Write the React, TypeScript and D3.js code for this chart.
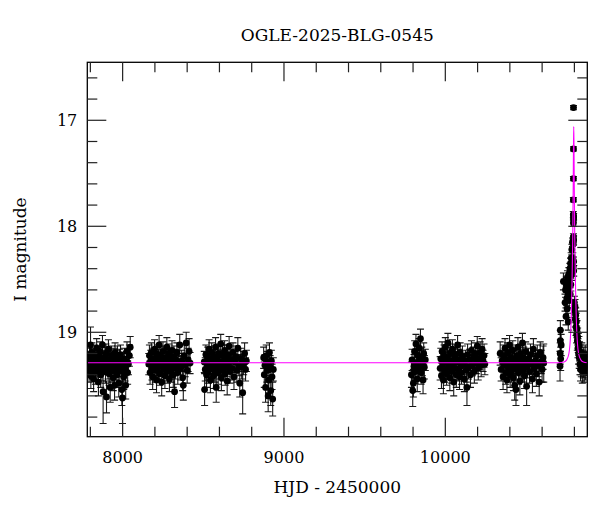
import { useEffect, useRef } from 'react'
import * as d3 from 'd3'

// each observation: [HJD - 2450000, I mag, error]
type Obs = [number, number, number]

const season1: Obs[] = [
  [7788,19.28,0.10],[7792,19.36,0.11],[7795,19.22,0.09],[7799,19.31,0.10],[7801,19.12,0.17],[7803,19.41,0.12],
  [7806,19.25,0.10],[7810,19.19,0.09],[7813,19.33,0.11],[7817,19.27,0.10],[7820,19.44,0.12],[7824,19.30,0.10],
  [7828,19.21,0.09],[7831,19.38,0.11],[7835,19.26,0.10],[7839,19.15,0.09],[7842,19.34,0.11],[7846,19.29,0.10],
  [7850,19.47,0.13],[7853,19.23,0.10],[7857,19.32,0.10],[7861,19.18,0.09],[7864,19.40,0.12],[7868,19.27,0.10],
  [7872,19.35,0.11],[7875,19.12,0.09],[7879,19.56,0.30],[7886,19.30,0.10],[7890,19.24,0.10],[7894,19.37,0.11],
  [7897,19.20,0.09],[7900,19.61,0.15],[7905,19.28,0.10],[7909,19.33,0.11],[7912,19.16,0.09],[7916,19.39,0.11],
  [7920,19.26,0.10],[7923,19.52,0.14],[7927,19.31,0.10],[7931,19.22,0.09],[7934,19.36,0.11],[7938,19.29,0.10],
  [7942,19.43,0.12],[7946,19.25,0.10],[7950,19.50,0.14],[7953,19.19,0.09],[7957,19.34,0.11],[7961,19.27,0.10],
  [7965,19.40,0.12],[7968,19.23,0.10],[7972,19.32,0.10],[7976,19.48,0.13],[7980,19.26,0.10],[7983,19.36,0.11],
  [7987,19.21,0.09],[7991,19.29,0.10],[7995,19.54,0.15],[7999,19.62,0.24],[8003,19.31,0.11],[8007,19.42,0.12],
  [8011,19.25,0.10],[8015,19.35,0.11],[8019,19.50,0.13],[8023,19.28,0.10],[8027,19.18,0.09],[8031,19.38,0.11],
  [8036,19.30,0.10],[8042,19.22,0.10],[8047,19.14,0.10],
]

const season2: Obs[] = [
  [8162,19.30,0.10],[8166,19.22,0.10],[8170,19.38,0.11],[8174,19.27,0.10],[8178,19.19,0.09],[8182,19.34,0.11],
  [8186,19.42,0.12],[8190,19.25,0.10],[8194,19.31,0.10],[8198,19.16,0.09],[8202,19.36,0.11],[8206,19.28,0.10],
  [8210,19.45,0.12],[8214,19.21,0.09],[8218,19.33,0.11],[8222,19.26,0.10],[8226,19.12,0.09],[8230,19.39,0.11],
  [8234,19.30,0.10],[8238,19.23,0.10],[8242,19.47,0.13],[8246,19.29,0.10],[8250,19.18,0.09],[8254,19.35,0.11],
  [8258,19.27,0.10],[8262,19.41,0.12],[8266,19.24,0.10],[8270,19.32,0.10],[8274,19.14,0.09],[8278,19.37,0.11],
  [8282,19.28,0.10],[8286,19.20,0.09],[8290,19.44,0.12],[8294,19.31,0.10],[8298,19.25,0.10],[8302,19.36,0.11],
  [8306,19.17,0.09],[8310,19.29,0.10],[8314,19.40,0.12],[8318,19.23,0.10],[8322,19.56,0.15],[8326,19.33,0.11],
  [8330,19.26,0.10],[8336,19.19,0.09],[8342,19.38,0.11],[8348,19.30,0.10],[8354,19.12,0.10],[8360,19.34,0.11],
  [8366,19.27,0.10],[8372,19.43,0.12],[8376,19.50,0.14],[8382,19.22,0.10],[8388,19.31,0.11],[8394,19.10,0.10],
  [8400,19.36,0.12],[8406,19.26,0.11],[8412,19.18,0.12],[8418,19.29,0.10],
]

const season3: Obs[] = [
  [8506,19.28,0.10],[8508,19.54,0.15],[8512,19.35,0.11],[8516,19.21,0.09],[8520,19.40,0.12],[8524,19.30,0.10],
  [8528,19.24,0.10],[8532,19.37,0.11],[8536,19.16,0.09],[8540,19.32,0.10],[8544,19.45,0.12],[8548,19.27,0.10],
  [8552,19.19,0.09],[8556,19.34,0.11],[8560,19.29,0.10],[8564,19.41,0.12],[8568,19.23,0.10],[8572,19.36,0.11],
  [8576,19.14,0.09],[8580,19.52,0.14],[8584,19.31,0.10],[8588,19.26,0.10],[8592,19.38,0.11],[8596,19.20,0.09],
  [8600,19.33,0.11],[8604,19.28,0.10],[8608,19.11,0.09],[8612,19.43,0.12],[8616,19.30,0.10],[8620,19.22,0.10],
  [8624,19.35,0.11],[8628,19.27,0.10],[8632,19.17,0.09],[8636,19.39,0.11],[8640,19.25,0.10],[8644,19.32,0.10],
  [8648,19.46,0.13],[8652,19.21,0.09],[8656,19.29,0.10],[8660,19.13,0.09],[8666,19.37,0.11],[8672,19.26,0.10],
  [8678,19.34,0.11],[8684,19.19,0.09],[8690,19.42,0.12],[8696,19.28,0.10],[8702,19.23,0.10],[8708,19.36,0.11],
  [8714,19.15,0.10],[8720,19.31,0.10],[8726,19.48,0.13],[8732,19.25,0.10],[8738,19.33,0.11],[8744,19.57,0.20],
  [8750,19.29,0.11],[8756,19.20,0.10],[8762,19.35,0.11],[8767,19.27,0.10],
]

const season4: Obs[] = [
  [8874,19.24,0.10],[8878,19.40,0.12],[8882,19.31,0.10],[8886,19.52,0.14],[8890,19.22,0.10],[8894,19.36,0.11],
  [8898,19.28,0.10],[8902,19.60,0.15],[8906,19.45,0.12],[8910,19.19,0.09],[8914,19.33,0.11],[8918,19.55,0.14],
  [8922,19.27,0.10],[8926,19.42,0.12],[8930,19.63,0.16],[8934,19.35,0.11],
]

const season5: Obs[] = [
  [9790,19.40,0.12],[9794,19.26,0.10],[9798,19.55,0.15],[9802,19.48,0.13],[9806,19.32,0.11],[9810,19.18,0.10],
  [9814,19.37,0.11],[9818,19.11,0.09],[9822,19.29,0.10],[9826,19.44,0.12],[9830,19.22,0.10],[9834,19.34,0.11],
  [9838,19.15,0.09],[9842,19.27,0.10],[9846,19.06,0.09],[9850,19.38,0.11],[9854,19.24,0.10],[9858,19.31,0.10],
  [9862,19.45,0.13],[9866,19.20,0.10],[9870,19.33,0.11],[9876,19.26,0.10],
]

const season6: Obs[] = [
  [9968,19.34,0.11],[9972,19.25,0.10],[9976,19.41,0.12],[9980,19.18,0.09],[9984,19.30,0.10],[9988,19.45,0.13],
  [9992,19.22,0.10],[9996,19.36,0.11],[10000,19.14,0.09],[10004,19.28,0.10],[10008,19.39,0.11],[10012,19.24,0.10],
  [10016,19.10,0.09],[10020,19.33,0.11],[10024,19.27,0.10],[10028,19.43,0.12],[10032,19.20,0.09],[10036,19.31,0.10],
  [10040,19.37,0.11],[10044,19.16,0.09],[10048,19.29,0.10],[10052,19.47,0.13],[10056,19.25,0.10],[10060,19.34,0.11],
  [10064,19.21,0.09],[10068,19.40,0.12],[10072,19.28,0.10],[10076,19.12,0.09],[10080,19.35,0.11],[10084,19.26,0.10],
  [10088,19.42,0.12],[10092,19.19,0.09],[10096,19.32,0.10],[10100,19.38,0.11],[10106,19.23,0.10],[10112,19.30,0.10],
  [10118,19.44,0.12],[10124,19.27,0.10],[10130,19.36,0.11],[10134,19.52,0.17],[10138,19.21,0.10],[10144,19.33,0.11],
  [10150,19.26,0.10],[10156,19.40,0.12],[10162,19.17,0.09],[10168,19.31,0.10],[10174,19.24,0.10],[10180,19.37,0.11],
  [10186,19.20,0.10],[10192,19.29,0.10],[10198,19.13,0.09],[10204,19.34,0.11],[10210,19.25,0.10],[10216,19.19,0.10],
  [10222,19.31,0.11],[10228,19.16,0.10],[10234,19.27,0.10],[10240,19.22,0.11],[10245,19.30,0.10],
]

const season7: Obs[] = [
  [10340,19.20,0.11],[10346,19.35,0.11],[10352,19.27,0.10],[10358,19.42,0.12],[10362,19.22,0.10],[10366,19.31,0.10],
  [10370,19.15,0.09],[10374,19.38,0.11],[10378,19.26,0.10],[10382,19.45,0.12],[10386,19.19,0.09],[10390,19.33,0.11],
  [10394,19.28,0.10],[10398,19.12,0.09],[10402,19.40,0.12],[10406,19.24,0.10],[10410,19.36,0.11],[10414,19.30,0.10],
  [10418,19.17,0.09],[10422,19.43,0.12],[10426,19.27,0.10],[10430,19.50,0.14],[10434,19.34,0.11],[10438,19.54,0.15],
  [10442,19.22,0.10],[10446,19.31,0.10],[10450,19.14,0.09],[10454,19.38,0.11],[10458,19.26,0.10],[10462,19.46,0.13],
  [10466,19.20,0.09],[10470,19.33,0.11],[10474,19.28,0.10],[10478,19.10,0.09],[10482,19.36,0.11],[10486,19.24,0.10],
  [10490,19.41,0.12],[10494,19.29,0.10],[10498,19.18,0.09],[10504,19.51,0.18],[10510,19.32,0.11],[10516,19.25,0.10],
  [10522,19.37,0.11],[10528,19.21,0.10],[10534,19.30,0.10],[10540,19.44,0.13],[10546,19.16,0.10],[10552,19.34,0.11],
  [10558,19.27,0.10],[10564,19.39,0.12],[10570,19.22,0.10],[10576,19.31,0.11],[10582,19.47,0.13],[10588,19.19,0.10],
  [10594,19.28,0.11],[10600,19.35,0.12],[10606,19.24,0.11],[10610,19.29,0.18],
]

// 2025 season: baseline, rise, peak, decline
const season8: Obs[] = [
  [10711,19.32,0.14],[10712,19.20,0.10],[10713,19.08,0.10],[10713,18.98,0.09],[10715,19.25,0.11],[10718,19.12,0.10],
  [10732,18.52,0.08],[10742,18.72,0.08],[10745,18.60,0.07],[10748,18.85,0.08],[10750,18.55,0.07],[10753,18.68,0.07],
  [10755,18.78,0.08],[10757,18.48,0.06],[10760,18.62,0.07],[10762,18.90,0.08],[10764,18.58,0.06],[10766,18.45,0.06],
  [10768,18.70,0.07],[10770,18.52,0.06],[10772,18.40,0.05],[10774,18.64,0.06],[10776,18.35,0.05],[10778,18.55,0.06],
  [10780,18.30,0.05],[10782,18.46,0.05],[10784,18.22,0.05],[10786,18.40,0.05],[10788,18.15,0.04],[10790,18.30,0.05],
  [10794.5,16.88,0.02],[10794.3,17.27,0.02],[10794.0,17.55,0.02],[10793.6,17.75,0.02],[10793.2,17.89,0.03],
  [10794.6,17.93,0.03],[10793.8,17.97,0.03],[10795.2,17.91,0.03],[10794.0,18.10,0.03],[10795.0,18.13,0.04],
  [10793.2,18.15,0.03],[10794.8,18.33,0.04],[10793.0,18.38,0.04],[10795.8,18.42,0.05],
  [10800,18.72,0.06],[10802,18.80,0.06],[10804,18.76,0.07],[10806,18.88,0.07],[10808,18.84,0.07],[10810,18.95,0.08],
  [10812,18.90,0.08],[10814,19.02,0.08],[10816,18.97,0.08],[10818,19.08,0.09],[10820,19.04,0.08],[10822,19.15,0.09],
  [10824,19.10,0.09],[10826,19.20,0.10],[10828,19.13,0.09],[10830,19.24,0.10],[10832,19.18,0.09],[10834,19.30,0.10],
  [10836,19.22,0.10],[10838,19.35,0.11],[10840,19.26,0.10],[10843,19.32,0.10],[10846,19.20,0.10],[10849,19.36,0.12],
  [10852,19.27,0.10],[10855,19.33,0.10],[10858,19.24,0.10],[10861,19.36,0.11],[10864,19.29,0.10],[10867,19.22,0.10],
  [10870,19.34,0.11],[10873,19.28,0.10],[10876,19.31,0.10],
]

const seasons = [season1, season2, season3, season4, season5, season6, season7, season8]

// model light curve
const modelHjd = [7781, 10700, 10736, 10752, 10766, 10777, 10784.5, 10789.8, 10792.8, 10794.7, 10796,
  10797.3, 10799.2, 10802.2, 10807.5, 10815, 10826, 10840, 10856, 10880]
const modelMag = [19.287, 19.287, 19.28, 19.26, 19.2, 19.0, 18.6, 18.1, 17.6, 17.2, 17.06,
  17.2, 17.6, 18.1, 18.6, 19.0, 19.2, 19.26, 19.28, 19.287]

const xMajor = [8000, 9000, 10000]
const yMajor = [17, 18, 19]

const title = 'OGLE-2025-BLG-0545'
const xTitle = 'HJD - 2450000'
const yTitle = 'I magnitude'

const W = 600
const H = 512
const FONT = '"DejaVu Serif", serif'

export default function App() {
  const ref = useRef<SVGSVGElement | null>(null)

  useEffect(() => {
    const svg = d3.select(ref.current)
    svg.selectAll('*').remove()

    const margin = { top: 62.3, right: 12.7, bottom: 75.3, left: 87.3 }
    const width = W - margin.left - margin.right
    const height = H - margin.top - margin.bottom

    const x = d3.scaleLinear().domain([7781, 10880]).range([0, width])
    const y = d3.scaleLinear().domain([16.453, 19.985]).range([0, height])

    const chart = svg.append('g').attr('transform', `translate(${margin.left},${margin.top})`)

    const clip = svg.append('defs').append('clipPath').attr('id', 'plotclip')
    clip.append('rect').attr('width', width).attr('height', height)

    // * data: error bars then dots
    const pts = chart.append('g').attr('clip-path', 'url(#plotclip)')
    const all = seasons.flat()
    const cap = 3.5

    const eb = pts.selectAll('.eb').data(all).enter().append('g').attr('class', 'eb')
    eb.append('path')
      .attr('d', (d) => {
        const cx = x(d[0])
        const y0 = y(d[1] - d[2])
        const y1 = y(d[1] + d[2])
        return `M${cx},${y0}V${y1}M${cx - cap},${y0}H${cx + cap}M${cx - cap},${y1}H${cx + cap}`
      })
      .attr('fill', 'none')
      .attr('stroke', '#000')
      .attr('stroke-opacity', 0.9)
      .attr('stroke-width', 1.1)
    eb.append('circle')
      .attr('cx', (d) => x(d[0]))
      .attr('cy', (d) => y(d[1]))
      .attr('r', 3.4)
      .attr('fill', '#000')

    // * model curve
    const line = d3.line<number>()
      .x((d, i) => x(modelHjd[i]))
      .y((d) => y(d))
      .curve(d3.curveMonotoneX)
    pts.append('path')
      .attr('d', line(modelMag))
      .attr('fill', 'none')
      .attr('stroke', '#ff00ff')
      .attr('stroke-width', 1.1)

    // * frame and ticks (inward, all four sides)
    chart.append('rect')
      .attr('width', width).attr('height', height)
      .attr('fill', 'none').attr('stroke', '#000').attr('stroke-width', 1.3)

    const tickColor = '#222'
    const xt = d3.range(7800, 10801, 200)
    xt.forEach((t) => {
      const len = xMajor.includes(t) ? 19 : 10
      const px = x(t)
      chart.append('line').attr('x1', px).attr('x2', px).attr('y1', height).attr('y2', height - len)
        .attr('stroke', tickColor).attr('stroke-width', 1.2)
      chart.append('line').attr('x1', px).attr('x2', px).attr('y1', 0).attr('y2', len)
        .attr('stroke', tickColor).attr('stroke-width', 1.2)
    })
    const yt = d3.range(16.6, 19.81, 0.2).map((v) => +v.toFixed(1))
    yt.forEach((t) => {
      const len = yMajor.includes(t) ? 19 : 10
      const py = y(t)
      chart.append('line').attr('x1', 0).attr('x2', len).attr('y1', py).attr('y2', py)
        .attr('stroke', tickColor).attr('stroke-width', 1.2)
      chart.append('line').attr('x1', width).attr('x2', width - len).attr('y1', py).attr('y2', py)
        .attr('stroke', tickColor).attr('stroke-width', 1.2)
    })

    // * labels
    chart.selectAll('.xl').data(xMajor).enter().append('text')
      .attr('x', (d) => x(d)).attr('y', height + 26)
      .attr('text-anchor', 'middle')
      .attr('font-family', FONT).attr('font-size', 16).attr('fill', '#000')
      .text((d) => d)
    chart.selectAll('.yl').data(yMajor).enter().append('text')
      .attr('x', -10).attr('y', (d) => y(d) + 6)
      .attr('text-anchor', 'end')
      .attr('font-family', FONT).attr('font-size', 16).attr('fill', '#000')
      .text((d) => d)

    svg.append('text')
      .attr('x', margin.left + width / 2).attr('y', 41)
      .attr('text-anchor', 'middle')
      .attr('font-family', FONT).attr('font-size', 17).attr('fill', '#000')
      .text(title)
    svg.append('text')
      .attr('x', margin.left + width / 2).attr('y', 493)
      .attr('text-anchor', 'middle')
      .attr('font-family', FONT).attr('font-size', 17).attr('fill', '#000')
      .text(xTitle)
    svg.append('text')
      .attr('transform', `translate(26,${margin.top + height / 2}) rotate(-90)`)
      .attr('text-anchor', 'middle')
      .attr('font-family', FONT).attr('font-size', 17).attr('fill', '#000')
      .text(yTitle)
  }, [])

  return (
    <svg
      ref={ref}
      width={W}
      height={H}
      style={{ position: 'absolute', left: 0, top: 0, background: '#fff' }}
    />
  )
}
